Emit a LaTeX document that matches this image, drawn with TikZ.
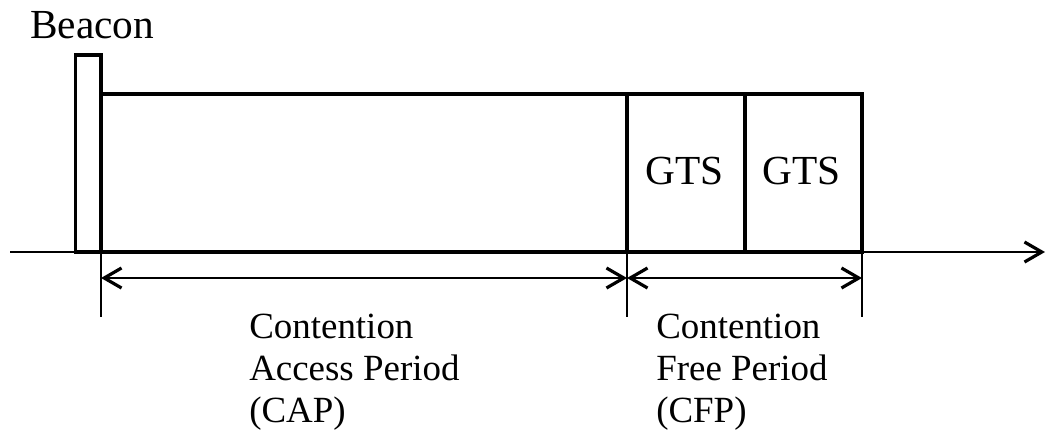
\documentclass[tikz,border=0pt]{standalone}
\usepackage{fontspec}
\setmainfont{Liberation Serif}
\usetikzlibrary{positioning, arrows.meta, calc}

\begin{document}
\begin{tikzpicture}[x=0.75pt, y=-0.75pt,
  slotframe/.style={line width=2.8pt},
  thinline/.style={line width=2.2pt},
  barb/.tip={Straight Barb[length=13pt, width=15pt, line width=2.4pt]},
  dimline/.style={thinline, {barb}-{barb}},
  lbl/.style={font=\fontsize{27.7}{31.5}\selectfont, inner sep=0pt},
  biglbl/.style={font=\fontsize{31}{36}\selectfont, inner sep=0pt}]
  \useasboundingbox (0,0) rectangle (1046,437);

  % slot boundaries on the time axis
  \coordinate (t0) at (75.5,252);
  \coordinate (cap) at (101,252);
  \coordinate (cfp) at (627,252);
  \coordinate (gts) at (745,252);
  \coordinate (sfend) at (862,252);

  % beacon and superframe
  \draw[slotframe] (t0) rectangle (101,55);
  \draw[slotframe] (cap) rectangle (862,94);
  \foreach \x in {cfp,gts}{
    \draw[slotframe] (\x) -- (\x |- 0,94);
  }

  % time axis
  \coordinate (ax0) at (10,252);
  \coordinate (ax1) at (1045,252);
  \draw[thinline, -{barb}] (ax0) -- (ax1);

  % extension lines
  \foreach \x in {cap,cfp,sfend}{
    \draw[thinline] (\x) -- ++(0,65) coordinate (\x-low);
  }

  % period arrows
  \coordinate (capL) at (101,278);
  \coordinate (capR) at (627,278);
  \coordinate (cfpR) at (862,278);
  \draw[dimline] (capL) -- (capR);
  \draw[dimline] (capR) -- (cfpR);

  % labels
  \node[biglbl, anchor=base west] (beacon) at (30,38) {Beacon};
  \node[biglbl, anchor=base west] (gts1) at (645,184) {GTS};
  \node[biglbl, anchor=base west] (gts2) at (762,184) {GTS};
  \node[lbl, align=left, anchor=north west] (caplbl) at (249,314)
    {Contention\\Access Period\\(CAP)};
  \node[lbl, align=left, anchor=north west] (cfplbl) at (656,314)
    {Contention\\Free Period\\(CFP)};
\end{tikzpicture}
\end{document}
